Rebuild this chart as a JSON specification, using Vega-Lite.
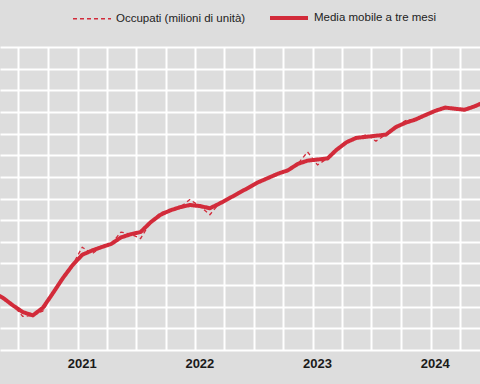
{
  "$schema": "https://vega.github.io/schema/vega-lite/v6.json",
  "width": 480,
  "height": 303,
  "autosize": {"type": "none"},
  "padding": {"top": 47, "left": 0, "right": 0, "bottom": 34},
  "background": "#dddddd",
  "config": {"view": {"stroke": null, "fill": "#dddddd"}, "font": "Liberation Sans"},
  "data": {"values": [
    {"date": "2020-04-15", "occupati": 22.33, "media": 22.33},
    {"date": "2020-05-15", "occupati": 22.28, "media": 22.28},
    {"date": "2020-06-15", "occupati": 22.21, "media": 22.21},
    {"date": "2020-07-15", "occupati": 22.11, "media": 22.15},
    {"date": "2020-08-15", "occupati": 22.12, "media": 22.12},
    {"date": "2020-09-15", "occupati": 22.16, "media": 22.19},
    {"date": "2020-10-15", "occupati": 22.32, "media": 22.32},
    {"date": "2020-11-15", "occupati": 22.46, "media": 22.46},
    {"date": "2020-12-15", "occupati": 22.58, "media": 22.58},
    {"date": "2021-01-15", "occupati": 22.75, "media": 22.68},
    {"date": "2021-02-15", "occupati": 22.69, "media": 22.72},
    {"date": "2021-03-15", "occupati": 22.75, "media": 22.75},
    {"date": "2021-04-15", "occupati": 22.78, "media": 22.78},
    {"date": "2021-05-15", "occupati": 22.89, "media": 22.84},
    {"date": "2021-06-15", "occupati": 22.87, "media": 22.87},
    {"date": "2021-07-15", "occupati": 22.83, "media": 22.89},
    {"date": "2021-08-15", "occupati": 22.98, "media": 22.98},
    {"date": "2021-09-15", "occupati": 23.07, "media": 23.05},
    {"date": "2021-10-15", "occupati": 23.09, "media": 23.09},
    {"date": "2021-11-15", "occupati": 23.12, "media": 23.12},
    {"date": "2021-12-15", "occupati": 23.19, "media": 23.14},
    {"date": "2022-01-15", "occupati": 23.13, "media": 23.13},
    {"date": "2022-02-15", "occupati": 23.05, "media": 23.11},
    {"date": "2022-03-15", "occupati": 23.15, "media": 23.15},
    {"date": "2022-04-15", "occupati": 23.20, "media": 23.20},
    {"date": "2022-05-15", "occupati": 23.25, "media": 23.25},
    {"date": "2022-06-15", "occupati": 23.30, "media": 23.30},
    {"date": "2022-07-15", "occupati": 23.35, "media": 23.35},
    {"date": "2022-08-15", "occupati": 23.39, "media": 23.39},
    {"date": "2022-09-15", "occupati": 23.43, "media": 23.43},
    {"date": "2022-10-15", "occupati": 23.46, "media": 23.46},
    {"date": "2022-11-15", "occupati": 23.52, "media": 23.52},
    {"date": "2022-12-15", "occupati": 23.63, "media": 23.55},
    {"date": "2023-01-15", "occupati": 23.51, "media": 23.56},
    {"date": "2023-02-15", "occupati": 23.57, "media": 23.57},
    {"date": "2023-03-15", "occupati": 23.65, "media": 23.65},
    {"date": "2023-04-15", "occupati": 23.72, "media": 23.72},
    {"date": "2023-05-15", "occupati": 23.76, "media": 23.76},
    {"date": "2023-06-15", "occupati": 23.79, "media": 23.77},
    {"date": "2023-07-15", "occupati": 23.73, "media": 23.78},
    {"date": "2023-08-15", "occupati": 23.79, "media": 23.79},
    {"date": "2023-09-15", "occupati": 23.86, "media": 23.86},
    {"date": "2023-10-15", "occupati": 23.92, "media": 23.90},
    {"date": "2023-11-15", "occupati": 23.93, "media": 23.93},
    {"date": "2023-12-15", "occupati": 23.97, "media": 23.97},
    {"date": "2024-01-15", "occupati": 24.01, "media": 24.01},
    {"date": "2024-02-15", "occupati": 24.05, "media": 24.04},
    {"date": "2024-03-15", "occupati": 24.03, "media": 24.03},
    {"date": "2024-04-15", "occupati": 24.02, "media": 24.02},
    {"date": "2024-05-15", "occupati": 24.05, "media": 24.05},
    {"date": "2024-06-15", "occupati": 24.09, "media": 24.09}
  ]},
  "transform": [{"fold": ["occupati", "media"], "as": ["serie", "valore"]}],
  "mark": {"type": "line", "clip": true, "strokeJoin": "round"},
  "encoding": {
    "x": {
      "field": "date", "type": "temporal",
      "scale": {"type": "utc", "domain": [{"year": 2020, "month": 5, "date": 5, "utc": true}, {"year": 2024, "month": 6, "date": 2, "utc": true}]},
      "axis": {
        "title": null, "orient": "bottom", "ticks": false, "domain": false,
        "grid": true, "gridColor": "#ffffff", "gridWidth": 2,
        "values": [
          {"year": 2020, "month": 7, "date": 1, "utc": true},
          {"year": 2020, "month": 10, "date": 1, "utc": true},
          {"year": 2021, "month": 1, "date": 1, "utc": true},
          {"year": 2021, "month": 4, "date": 1, "utc": true},
          {"year": 2021, "month": 7, "date": 1, "utc": true},
          {"year": 2021, "month": 10, "date": 1, "utc": true},
          {"year": 2022, "month": 1, "date": 1, "utc": true},
          {"year": 2022, "month": 4, "date": 1, "utc": true},
          {"year": 2022, "month": 7, "date": 1, "utc": true},
          {"year": 2022, "month": 10, "date": 1, "utc": true},
          {"year": 2023, "month": 1, "date": 1, "utc": true},
          {"year": 2023, "month": 4, "date": 1, "utc": true},
          {"year": 2023, "month": 7, "date": 1, "utc": true},
          {"year": 2023, "month": 10, "date": 1, "utc": true},
          {"year": 2024, "month": 1, "date": 1, "utc": true},
          {"year": 2024, "month": 4, "date": 1, "utc": true}
        ],
        "labelExpr": "utcmonth(datum.value) == 0 ? utcFormat(datum.value, '%Y') : ''",
        "labelOverlap": false, "labelFlush": false,
        "labelOffset": 4, "labelPadding": 7,
        "labelFont": "Liberation Sans", "labelFontSize": 13, "labelFontWeight": "bold", "labelColor": "#1a1a1a"
      }
    },
    "y": {
      "field": "valore", "type": "quantitative",
      "scale": {"domain": [21.8, 24.6], "nice": false, "zero": false},
      "axis": {
        "title": null, "labels": false, "ticks": false, "domain": false,
        "grid": true, "gridColor": "#ffffff", "gridWidth": 2,
        "values": [21.8, 22, 22.2, 22.4, 22.6, 22.8, 23, 23.2, 23.4, 23.6, 23.8, 24, 24.2, 24.4, 24.6]
      }
    },
    "color": {
      "field": "serie", "type": "ordinal",
      "scale": {"domain": ["occupati", "media"], "range": ["#d22b3a", "#d22b3a"]},
      "legend": {
        "title": null, "orient": "none", "direction": "horizontal",
        "legendX": 72, "legendY": -50, "padding": 0,
        "symbolType": "stroke", "symbolSize": 1444,
        "labelFont": "Liberation Sans", "labelFontSize": 11.5, "labelColor": "#222222",
        "labelOffset": 4, "columnPadding": 16,
        "labelExpr": "datum.label == 'occupati' ? 'Occupati (milioni di unità)' : 'Media mobile a tre mesi'"
      }
    },
    "strokeDash": {
      "field": "serie", "type": "ordinal",
      "scale": {"domain": ["occupati", "media"], "range": [[4, 3], [1, 0]]}
    },
    "strokeWidth": {
      "field": "serie", "type": "ordinal",
      "scale": {"domain": ["occupati", "media"], "range": [1.3, 4]}
    }
  }
}
